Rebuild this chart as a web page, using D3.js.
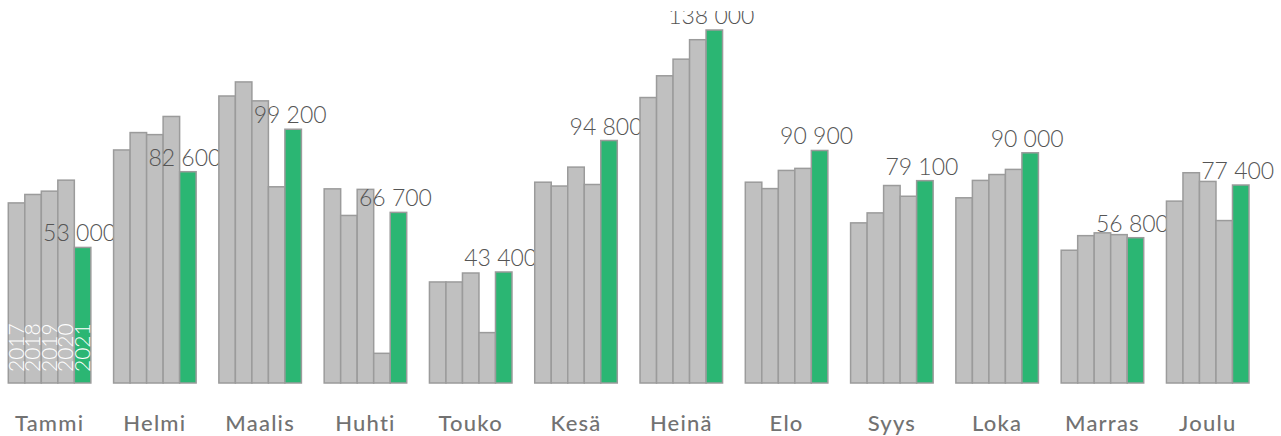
<!DOCTYPE html>
<html>
<head>
<meta charset="utf-8">
<script src="https://cdn.jsdelivr.net/npm/d3@7"></script>
<style>
  html, body { margin: 0; padding: 0; background: #fff; }
  svg { display: block; }
</style>
</head>
<body>
<svg id="chart" width="1281" height="436"></svg>
<script>
const months = ["Tammi","Helmi","Maalis","Huhti","Touko","Kesä","Heinä","Elo","Syys","Loka","Marras","Joulu"];
const years = ["2017","2018","2019","2020","2021"];
const v2017 = [70400, 91100, 112200, 75900, 39500, 78500, 111600, 78500, 62600, 72400, 51900, 71100];
const v2018 = [73700, 97900, 117700, 65500, 39500, 77000, 120100, 76000, 66500, 79200, 57600, 82200];
const v2019 = [75000, 97100, 110300, 75700, 43000, 84400, 126600, 83100, 77200, 81500, 58700, 78800];
const v2020 = [79300, 104200, 76700, 11600, 19700, 77600, 134200, 83900, 73000, 83500, 58000, 63500];
const v2021 = [53000, 82600, 99200, 66700, 43400, 94800, 138000, 90900, 79100, 90000, 56800, 77400];
const seriesValues = [v2017, v2018, v2019, v2020, v2021];

const W = 1281, H = 436;
const svg = d3.select("#chart");

svg.append("defs").append("clipPath").attr("id", "plotclip")
  .append("rect").attr("x", 0).attr("y", 11).attr("width", W).attr("height", H - 11);

const x0 = d3.scaleBand().domain(months).range([8.3, 1249]).paddingInner(0.216).paddingOuter(0);
const x1 = d3.scaleBand().domain(years).range([0, x0.bandwidth()]).padding(0);
const y = d3.scaleLinear().domain([0, 138000]).range([383, 30]);

const fmt = v => d3.format(",")(v).replace(/,/g, " ");

const root = svg.append("g").attr("clip-path", "url(#plotclip)");

const groups = root.selectAll("g.month")
  .data(months)
  .join("g")
  .attr("class", "month")
  .attr("transform", d => `translate(${x0(d)},0)`);

groups.selectAll("rect")
  .data((m, i) => years.map((yr, k) => ({ yr, v: seriesValues[k][i] })))
  .join("rect")
  .attr("x", d => x1(d.yr))
  .attr("y", d => y(d.v))
  .attr("width", x1.bandwidth())
  .attr("height", d => y(0) - y(d.v))
  .attr("fill", d => d.yr === "2021" ? "#2bb673" : "#c0c0c0")
  .attr("stroke", "#9b9b9b")
  .attr("stroke-width", 1.5);

// year labels in first group
const first = groups.filter((d, i) => i === 0);
first.selectAll("text.yr")
  .data(years)
  .join("text")
  .attr("class", "yr")
  .attr("transform", d => `translate(${x1(d) + x1.bandwidth() / 2},372) rotate(-90)`)
  .attr("dy", "0.35em")
  .attr("text-anchor", "start")
  .attr("fill", "#ffffff")
  .style("font-family", "Lato, sans-serif")
  .style("font-weight", 300)
  .style("font-size", "21px")
  .text(d => d);

// value labels
groups.append("text")
  .attr("class", "val")
  .attr("x", x1("2021") + x1.bandwidth() / 2 - 3)
  .attr("y", (m, i) => y(v2021[i]) - 6)
  .attr("text-anchor", "middle")
  .attr("fill", "#555555")
  .style("font-family", "Lato, sans-serif")
  .style("font-weight", 300)
  .style("font-size", "23px")
  .text((m, i) => fmt(v2021[i]));

// month labels
groups.append("text")
  .attr("class", "mon")
  .attr("x", x0.bandwidth() / 2)
  .attr("y", 431)
  .attr("text-anchor", "middle")
  .attr("fill", "#727272")
  .style("font-family", "Lato, sans-serif")
  .style("font-weight", 500)
  .style("font-size", "22px")
  .style("letter-spacing", "1.2px")
  .text(d => d);
</script>
</body>
</html>
